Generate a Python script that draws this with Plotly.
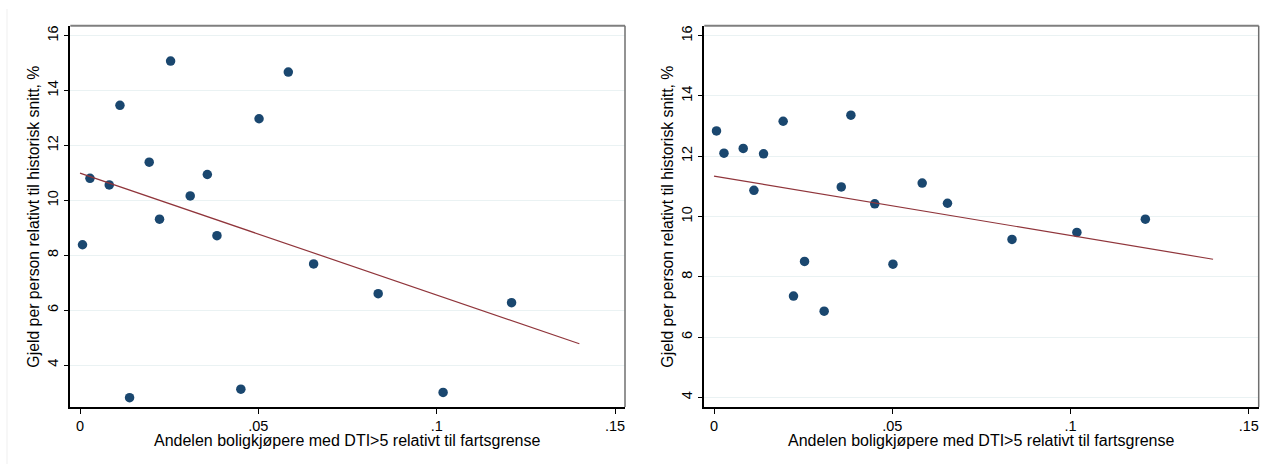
import numpy as np
import plotly.graph_objects as go

# ---- data ----
dti_share = [0.0007, 0.0028, 0.0082, 0.0112, 0.0139, 0.0194, 0.0223, 0.0254, 0.0309,
             0.0357, 0.0384, 0.0451, 0.0502, 0.0584, 0.0655, 0.0836, 0.1018, 0.1210]
debt_left = [8.38, 10.80, 10.56, 13.46, 2.81, 11.39, 9.31, 15.07, 10.16,
             10.94, 8.71, 3.12, 12.97, 14.67, 7.68, 6.60, 3.00, 6.27]
debt_right = [12.84, 12.10, 12.26, 10.87, 12.08, 13.16, 7.36, 8.51, 6.86,
              10.98, 13.36, 10.42, 8.42, 11.11, 10.44, 9.24, 9.47, 9.91]
# linear fit lines (intercept, slope)
fit_left = [10.99, -44.4]
fit_right = [11.34, -19.7]
fit_range = [0.0, 0.14]
x_tick_vals = [0, 0.05, 0.10, 0.15]
x_tick_text = ["0", ".05", ".1", ".15"]
y_tick_vals = [4, 6, 8, 10, 12, 14, 16]
y_tick_text = ["4", "6", "8", "10", "12", "14", "16"]
x_title = "Andelen boligkjøpere med DTI>5 relativt til fartsgrense"
y_title = "Gjeld per person relativt til historisk snitt, %"

W, H = 1262, 464
FONT = "Liberation Sans, Arial, sans-serif"
NAVY = "#1A476F"
MAROON = "#90353B"
GRID = "#EAF2F3"

panels = [
    dict(x0=70.3, x1=625.0, xr=[-0.00272, 0.1528], yr=[2.47, 16.36], y=debt_left, fit=fit_left),
    dict(x0=704.3, x1=1258.7, xr=[-0.00272, 0.1528], yr=[3.68, 16.33], y=debt_right, fit=fit_right),
]
top_px, bot_px = 25.7, 407.0

fig = go.Figure()
shapes = []
annotations = []
for i, p in enumerate(panels):
    sfx = "" if i == 0 else str(i + 1)
    xa, ya = "x" + sfx, "y" + sfx
    xs = np.array(dti_share)
    ys = np.array(p["y"])
    icept, slope = p["fit"]
    fx = np.array(fit_range)
    fy = icept + slope * fx
    fig.add_trace(go.Scatter(x=xs, y=ys, mode="markers", xaxis=xa, yaxis=ya,
                             marker=dict(color=NAVY, size=9.5, line=dict(width=0)),
                             showlegend=False, hoverinfo="skip"))
    fig.add_trace(go.Scatter(x=fx, y=fy, mode="lines", xaxis=xa, yaxis=ya,
                             line=dict(color=MAROON, width=1.2),
                             showlegend=False, hoverinfo="skip"))
    dom_x = [p["x0"] / W, p["x1"] / W]
    dom_y = [1 - bot_px / H, 1 - top_px / H]
    fig.layout["xaxis" + sfx] = dict(
        domain=dom_x, range=p["xr"], anchor=ya, tickvals=x_tick_vals, ticktext=x_tick_text,
        ticks="outside", ticklen=5, tickcolor="black", tickwidth=1,
        showline=True, linecolor="black", linewidth=1.5, showgrid=False, zeroline=False,
        tickfont=dict(family=FONT, size=14.5, color="black"), fixedrange=True)
    fig.layout["yaxis" + sfx] = dict(
        domain=dom_y, range=p["yr"], anchor=xa, tickvals=y_tick_vals, ticktext=y_tick_text,
        ticks="outside", ticklen=5, tickcolor="black", tickwidth=1, tickangle=-90,
        showline=True, linecolor="black", linewidth=1.5, showgrid=True, gridcolor=GRID,
        gridwidth=1, zeroline=False,
        tickfont=dict(family=FONT, size=14.5, color="black"), fixedrange=True)
    shapes.append(dict(type="line", xref="paper", yref="paper",
                       x0=dom_x[0], x1=dom_x[1], y0=dom_y[1], y1=dom_y[1],
                       line=dict(color="#7F7F7F", width=2)))
    shapes.append(dict(type="line", xref="paper", yref="paper",
                       x0=dom_x[1], x1=dom_x[1], y0=dom_y[0], y1=dom_y[1],
                       line=dict(color="#6F6F6F", width=1.5)))
    annotations.append(dict(text=x_title, xref="paper", yref="paper",
                            x=(dom_x[0] + dom_x[1]) / 2, y=1 - 440 / H,
                            xanchor="center", yanchor="middle", showarrow=False,
                            font=dict(family=FONT, size=16, color="black")))
    annotations.append(dict(text=y_title, xref="paper", yref="paper",
                            x=(p["x0"] - 37) / W, y=(dom_y[0] + dom_y[1]) / 2,
                            xanchor="center", yanchor="middle", showarrow=False,
                            textangle=-90,
                            font=dict(family=FONT, size=15.8, color="black")))

shapes.append(dict(type="line", xref="paper", yref="paper",
                   x0=7 / W, x1=7 / W, y0=0, y1=1 - 9 / H,
                   line=dict(color="#EFEFEF", width=1)))

fig.update_layout(width=W, height=H, margin=dict(l=0, r=0, t=0, b=0),
                  paper_bgcolor="white", plot_bgcolor="white",
                  shapes=shapes, annotations=annotations,
                  font=dict(family=FONT, size=14, color="black"))
fig.write_html("out.html")
